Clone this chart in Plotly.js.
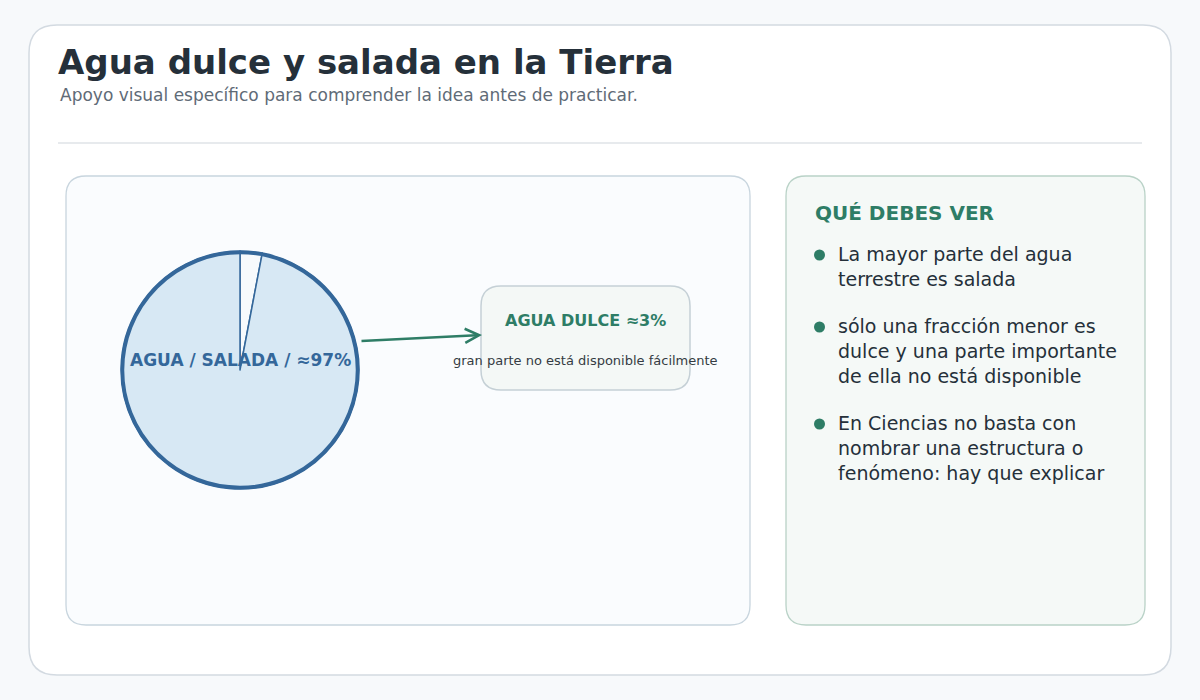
<!DOCTYPE html>
<html>
<head>
<meta charset="utf-8">
<script src="https://cdn.plot.ly/plotly-3.0.1.min.js"></script>
<style>html,body{margin:0;padding:0;background:#f7f9fb;}#chart{width:1200px;height:700px;}</style>
</head>
<body>
<div id="chart"></div>
<script>
// Data
const sliceLabels = ['Agua dulce', 'Agua salada'];
const sliceValues = [3, 97];
const sliceColors = ['#f7fafc', '#d7e8f4'];
const titleText = 'Agua dulce y salada en la Tierra';
const subtitleText = 'Apoyo visual específico para comprender la idea antes de practicar.';
const pieLabelText = 'AGUA / SALADA / ≈97%';
const calloutTitle = 'AGUA DULCE ≈3%';
const calloutSub = 'gran parte no está disponible fácilmente';
const sideTitle = 'QUÉ DEBES VER';
const bullets = [
  ['La mayor parte del agua', 'terrestre es salada'],
  ['sólo una fracción menor es', 'dulce y una parte importante', 'de ella no está disponible'],
  ['En Ciencias no basta con', 'nombrar una estructura o', 'fenómeno: hay que explicar']
];

const W = 1200, H = 700;
const FONT = 'DejaVu Sans, sans-serif';
const BLUE = '#34679a';
const GREEN = '#2e7d66';
const DARK = '#25303a';

function rr(x0, y0, x1, y1, r) {
  return `M${x0+r},${y0} H${x1-r} Q${x1},${y0} ${x1},${y0+r} V${y1-r} Q${x1},${y1} ${x1-r},${y1} H${x0+r} Q${x0},${y1} ${x0},${y1-r} V${y0+r} Q${x0},${y0} ${x0+r},${y0} Z`;
}

// pie geometry (pixels)
const cx = 240, cy = 370, R = 119;

const shapes = [
  {type:'path', xref:'x', yref:'y', layer:'below', path: rr(29,25,1171,675,28), fillcolor:'#ffffff', line:{color:'#d3dae1', width:1.5}},
  {type:'line', xref:'x', yref:'y', layer:'below', x0:58, x1:1142, y0:143, y1:143, line:{color:'#dfe3e7', width:1.5}},
  {type:'path', xref:'x', yref:'y', layer:'below', path: rr(66,176,750,625,20), fillcolor:'#fafcfe', line:{color:'#c8d5de', width:1.3}},
  {type:'path', xref:'x', yref:'y', layer:'below', path: rr(786,176,1145,625,20), fillcolor:'#f5f9f7', line:{color:'#b9d2c7', width:1.3}},
  {type:'path', xref:'x', yref:'y', layer:'below', path: rr(481,286,690,390,20), fillcolor:'#f4f8f6', line:{color:'#c5d0d6', width:1.5}},
  {type:'circle', xref:'x', yref:'y', layer:'above', x0:cx-R+1.5, x1:cx+R-1.5, y0:cy-R+1.5, y1:cy+R-1.5, line:{color:BLUE, width:3.5}, fillcolor:'rgba(0,0,0,0)'}
];
const bulletY = [255, 327, 424];
bulletY.forEach(y => shapes.push({type:'circle', xref:'x', yref:'y', layer:'above', x0:814, x1:825, y0:y-5.5, y1:y+5.5, fillcolor:GREEN, line:{width:0}}));

const annotations = [
  {x:56, y:62, xref:'x', yref:'y', text:'<b>'+titleText+'</b>', showarrow:false, xanchor:'left', yanchor:'middle', font:{family:FONT, size:34, color:DARK}},
  {x:58, y:95, xref:'x', yref:'y', text:subtitleText, showarrow:false, xanchor:'left', yanchor:'middle', font:{family:FONT, size:17, color:'#5f6b77'}},
  {x:cx, y:360, xref:'x', yref:'y', text:'<b>'+pieLabelText+'</b>', showarrow:false, xanchor:'center', yanchor:'middle', font:{family:FONT, size:17, color:BLUE}},
  {x:585, y:320, xref:'x', yref:'y', text:'<b>'+calloutTitle+'</b>', showarrow:false, xanchor:'center', yanchor:'middle', font:{family:FONT, size:16, color:GREEN}},
  {x:585, y:360, xref:'x', yref:'y', text:calloutSub, showarrow:false, xanchor:'center', yanchor:'middle', font:{family:FONT, size:13, color:'#353c43'}},
  {x:482, y:335, ax:360, ay:341, xref:'x', yref:'y', axref:'x', ayref:'y', text:'', showarrow:true, arrowhead:5, arrowsize:1.1, arrowwidth:2.5, arrowcolor:GREEN, standoff:0, startstandoff:0},
  {x:813, y:213, xref:'x', yref:'y', text:'<b>'+sideTitle+'</b>', showarrow:false, xanchor:'left', yanchor:'middle', font:{family:FONT, size:20, color:GREEN}}
];
const lineStep = 25;
bullets.forEach((lines, i) => {
  lines.forEach((t, j) => {
    annotations.push({x:836, y:bulletY[i] - 1 + j*lineStep, xref:'x', yref:'y', text:t, showarrow:false, xanchor:'left', yanchor:'middle', font:{family:FONT, size:19, color:DARK}});
  });
});

const pie = {
  type:'pie', labels:sliceLabels, values:sliceValues, sort:false, direction:'clockwise', rotation:0,
  marker:{colors:sliceColors, line:{color:BLUE, width:1.5}},
  textinfo:'none', hoverinfo:'label+percent', showlegend:false,
  domain:{x:[(cx-R)/W, (cx+R)/W], y:[1-(cy+R)/H, 1-(cy-R)/H]}
};

const layout = {
  width:W, height:H, margin:{l:0, r:0, t:0, b:0},
  paper_bgcolor:'#f7f9fb', plot_bgcolor:'rgba(0,0,0,0)',
  xaxis:{range:[0,W], visible:false, fixedrange:true},
  yaxis:{range:[H,0], visible:false, fixedrange:true},
  showlegend:false, shapes:shapes, annotations:annotations
};

Plotly.newPlot('chart', [pie], layout, {displayModeBar:false, staticPlot:true});
</script>
</body>
</html>
